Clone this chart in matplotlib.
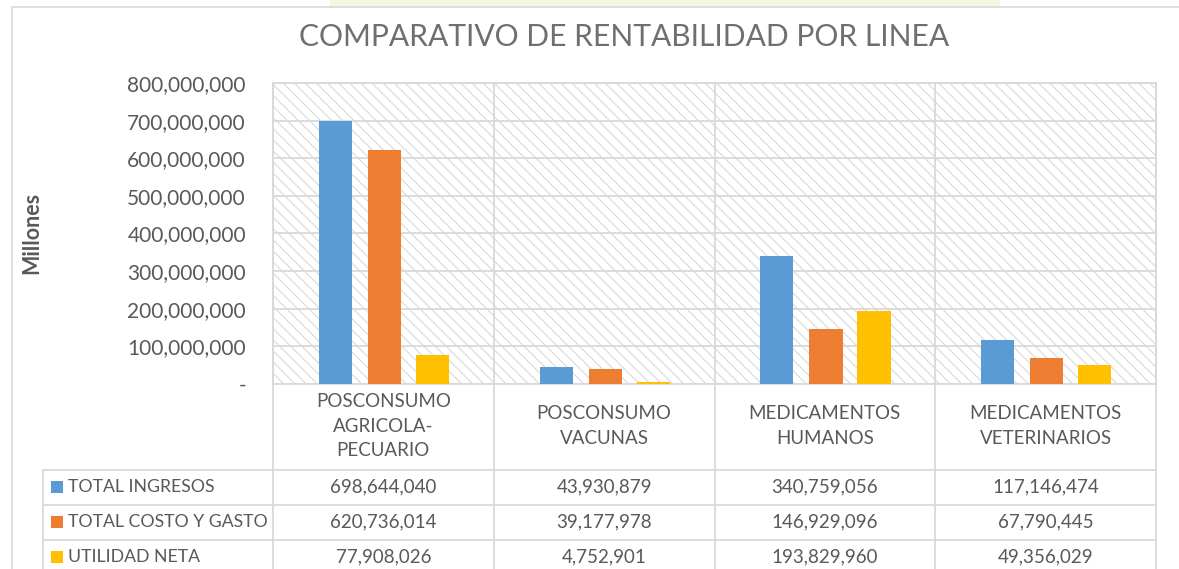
import numpy as np
import matplotlib
matplotlib.use("Agg")
import matplotlib.pyplot as plt
from matplotlib.patches import Rectangle
from matplotlib.lines import Line2D
from matplotlib.transforms import blended_transform_factory
from matplotlib.ticker import FuncFormatter

#
## DATA
categorias = ["POSCONSUMO\nAGRICOLA-\nPECUARIO", "POSCONSUMO\nVACUNAS",
              "MEDICAMENTOS\nHUMANOS", "MEDICAMENTOS\nVETERINARIOS"]
series = ["TOTAL INGRESOS", "TOTAL COSTO Y GASTO", "UTILIDAD NETA"]
ingresos = [698644040, 43930879, 340759056, 117146474]
costo_gasto = [620736014, 39177978, 146929096, 67790445]
utilidad = [77908026, 4752901, 193829960, 49356029]
valores = [ingresos, costo_gasto, utilidad]
colores = ["#5B9BD5", "#ED7D31", "#FFC000"]

plt.rcParams['font.family'] = ['Lato', 'DejaVu Sans']
plt.rcParams['hatch.linewidth'] = 0.8
txt = "#595959"
grid = "#d9d9d9"

W, H = 1179, 569
def fx(x): return x / W
def fy(y): return 1 - y / H

fig = plt.figure(figsize=(W / 100, H / 100), dpi=100)

# faint watermark band at the very top (from the source page)
fig.add_artist(Rectangle((fx(330), fy(7)), fx(1000) - fx(330), fy(0) - fy(7),
                         transform=fig.transFigure, color="#f3f7e4", lw=0))
# outer chart border
fig.add_artist(Rectangle((fx(12), fy(575)), fx(1200) - fx(12), fy(7) - fy(575),
                         transform=fig.transFigure, fill=False, ec=grid, lw=1.2))

ax = fig.add_axes([fx(273), fy(384), fx(1156) - fx(273), fy(83) - fy(384)])
ax.set_xlim(-0.5, 3.5)
ax.set_ylim(0, 800000000)

# hatched background
ax.add_patch(Rectangle((0, 0), 1, 1, transform=ax.transAxes, facecolor="white",
                       edgecolor="#d9d9d9", hatch="\\\\\\", lw=0, zorder=0))

x = np.arange(len(categorias))
offs = [-0.2175, 0.005, 0.2225]
for i in range(3):
    ax.bar(x + offs[i], valores[i], width=0.15, color=colores[i], zorder=3)

ax.set_yticks(np.arange(0, 800000001, 100000000))
ax.yaxis.set_major_formatter(FuncFormatter(lambda v, p: "-" if v == 0 else f"{v:,.0f}"))
ax.tick_params(axis='y', length=0, pad=19.5, labelsize=15, labelcolor=txt)
ax.set_xticks([])
ax.grid(axis='y', color=grid, lw=1.3, zorder=1)
for s in ax.spines.values():
    s.set_color(grid)
    s.set_linewidth(1.3)
    s.set_zorder(2)

fig.text(fx(32), fy(233), "Millones", rotation=90, ha='center', va='center',
         fontsize=15.5, fontweight='bold', color=txt)
fig.text(fx(624), fy(37), "COMPARATIVO DE RENTABILIDAD POR LINEA", ha='center', va='center',
         fontsize=21.6, color="#6f6f6f")

#
## DATA TABLE under the plot
tb = blended_transform_factory(ax.transData, fig.transFigure)
for b in np.arange(-0.5, 4.0, 1.0):
    fig.add_artist(Line2D([b, b], [fy(83), fy(575)], transform=tb, color=grid, lw=1.3))
fig.add_artist(Line2D([fx(43), fx(43)], [fy(470), fy(575)], transform=fig.transFigure, color=grid, lw=1.3))
for yy in [470, 505, 540]:
    fig.add_artist(Line2D([fx(43), fx(1156)], [fy(yy), fy(yy)], transform=fig.transFigure, color=grid, lw=1.3))

for i, c in enumerate(categorias):
    fig.text(i, fy(426), c, transform=tb, ha='center', va='center', fontsize=13.5,
             color=txt, linespacing=1.55)

filas = [487, 522, 557]
for r in range(3):
    yy = filas[r]
    fig.add_artist(Rectangle((fx(51), fy(yy + 6)), fx(12), fy(0) - fy(12),
                             transform=fig.transFigure, color=colores[r], lw=0))
    fig.text(fx(68), fy(yy), series[r], ha='left', va='center', fontsize=12.7, color=txt)
    for i in range(len(categorias)):
        fig.text(i, fy(yy), f"{valores[r][i]:,}", transform=tb, ha='center', va='center',
                 fontsize=13.5, color=txt)

fig.savefig("out.png", dpi=100)
